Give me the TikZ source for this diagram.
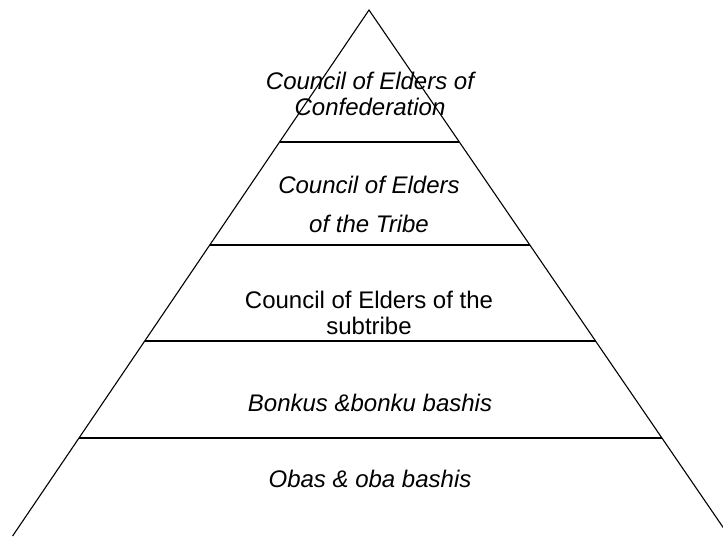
\documentclass[tikz,border=0pt]{standalone}
\usepackage{fontspec}
\setmainfont{Liberation Sans}
\usetikzlibrary{calc}
\tikzset{
  edge/.style={draw=black, line width=1.1pt},
  tier/.style={edge, line width=1.4pt},
  lbl/.style={anchor=base, inner sep=0pt, font=\fontsize{24}{28}\selectfont\itshape},
  lblup/.style={lbl, font=\fontsize{24}{28}\selectfont\upshape},
}
\begin{document}
\begin{tikzpicture}[x=1pt,y=-1pt]
\useasboundingbox (0,0) rectangle (723,536);
\clip (0,0) rectangle (723,536);
\coordinate (apex) at (369,10);
\coordinate (bl) at (12.6,536);
\coordinate (br) at (729,536);
\draw[edge] (bl) -- (apex) -- (br);
\foreach \t/\n in {0.2510/a,0.4468/b,0.6293/c,0.8137/d}{
  \coordinate (l\n) at ($(apex)!\t!(bl)$);
  \coordinate (r\n) at ($(apex)!\t!(br)$);
  \draw[tier] (l\n) -- (r\n);
}
\node[lbl] (t1a) at (370,89) {Council of Elders of};
\node[lbl] (t1b) at (370,115) {Confederation};
\node[lbl] (t2a) at (369,193) {Council of Elders};
\node[lbl] (t2b) at (369,232) {of the Tribe};
\node[lblup] (t3a) at (369,308) {Council of Elders of the};
\node[lblup] (t3b) at (369,334) {subtribe};
\node[lbl] (t4) at (370,411) {Bonkus \&bonku bashis};
\node[lbl] (t5) at (370,487) {Obas \& oba bashis};
\end{tikzpicture}
\end{document}
